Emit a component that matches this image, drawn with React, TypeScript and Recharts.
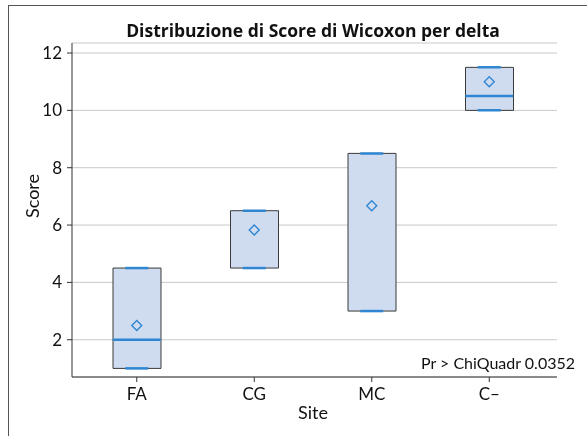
import React from 'react';
import { ComposedChart, Bar, Scatter, XAxis, YAxis, CartesianGrid } from 'recharts';

const sites = ['FA', 'CG', 'MC', 'C–'];
const q1 = [1, 4.5, 3, 10];
const q3 = [4.5, 6.5, 8.5, 11.5];
const medians = [2, 6.5, 8.5, 10.5];
const means = [2.5, 5.83, 6.67, 11];
const mins = [1, 4.5, 3, 10];
const maxs = [4.5, 6.5, 8.5, 11.5];
const yTicks = [2, 4, 6, 8, 10, 12];

const data = sites.map((s, i) => ({
  site: s,
  box: [q1[i], q3[i]],
  q1: q1[i],
  q3: q3[i],
  median: medians[i],
  mean: means[i],
  min: mins[i],
  max: maxs[i],
}));

const FONT = 'Lato, "Open Sans", sans-serif';
const TITLE_FONT = '"Open Sans", Lato, sans-serif';
const BLUE = '#2f86d2';
const BOX_W = 48;
const CAP_W = 23;

const MedianShape = (props: any) => {
  const { cx, cy, payload } = props;
  if (payload && (payload.median === payload.q1 || payload.median === payload.q3)) return <g />;
  return <line x1={cx - BOX_W / 2} x2={cx + BOX_W / 2} y1={cy} y2={cy} stroke={BLUE} strokeWidth={2.5} />;
};

const CapShape = (props: any) => {
  const { cx, cy } = props;
  return <line x1={cx - CAP_W / 2} x2={cx + CAP_W / 2} y1={cy} y2={cy} stroke={BLUE} strokeWidth={2.5} />;
};

const MeanShape = (props: any) => {
  const { cx, cy } = props;
  const r = 5;
  return (
    <path
      d={`M${cx},${cy - r} L${cx + r},${cy} L${cx},${cy + r} L${cx - r},${cy} Z`}
      fill="none"
      stroke={BLUE}
      strokeWidth={1.4}
    />
  );
};

export default function App() {
  return (
    <div style={{ position: 'relative', width: 1, height: 1 }}>
      <div
        style={{
          position: 'fixed',
          left: 8,
          top: 5,
          width: 579,
          height: 431,
          borderTop: '1.5px solid #555',
          borderLeft: '1.5px solid #555',
          boxSizing: 'border-box',
        }}
      />
      <div style={{ position: 'fixed', left: 0, top: 0 }}>
        <ComposedChart
          width={587}
          height={436}
          data={data}
          margin={{ top: 43, right: 30, left: 0, bottom: 29 }}
        >
          <CartesianGrid horizontal vertical={false} stroke="#c8c8c8" />
          <XAxis
            dataKey="site"
            type="category"
            height={30}
            padding={{ left: 6, right: 9 }}
            tickSize={5}
            tickMargin={6}
            stroke="#333"
            tick={{ fill: '#111', fontSize: 17, fontFamily: FONT }}
          />
          <YAxis
            type="number"
            width={72}
            domain={[0.7, 12.35]}
            ticks={yTicks}
            allowDataOverflow
            tickSize={5}
            tickMargin={5}
            stroke="#333"
            tick={{ fill: '#111', fontSize: 17, fontFamily: FONT }}
          />
          <Bar
            dataKey="box"
            barSize={BOX_W}
            fill="#cfdcf0"
            stroke="#3a3a3a"
            strokeWidth={1}
            isAnimationActive={false}
          />
          <Scatter dataKey="median" shape={<MedianShape />} isAnimationActive={false} />
          <Scatter dataKey="min" shape={<CapShape />} isAnimationActive={false} />
          <Scatter dataKey="max" shape={<CapShape />} isAnimationActive={false} />
          <Scatter dataKey="mean" shape={<MeanShape />} isAnimationActive={false} />
        </ComposedChart>
      </div>
      <svg
        width={587}
        height={436}
        style={{ position: 'fixed', left: 0, top: 0, pointerEvents: 'none' }}
      >
        <text x={313} y={37} textAnchor="middle" fontFamily={TITLE_FONT} fontWeight="bold" fontSize={17.5} fill="#111">
          Distribuzione di Score di Wicoxon per delta
        </text>
        <text x={313} y={419} textAnchor="middle" fontFamily={FONT} fontSize={18} fill="#111">
          Site
        </text>
        <text
          x={0}
          y={0}
          transform="translate(39,196) rotate(-90)"
          textAnchor="middle"
          fontFamily={FONT}
          fontSize={18}
          fill="#111"
        >
          Score
        </text>
        <text x={575} y={369} textAnchor="end" fontFamily={FONT} fontSize={16} fill="#111">
          Pr &gt; ChiQuadr 0.0352
        </text>
      </svg>
    </div>
  );
}
